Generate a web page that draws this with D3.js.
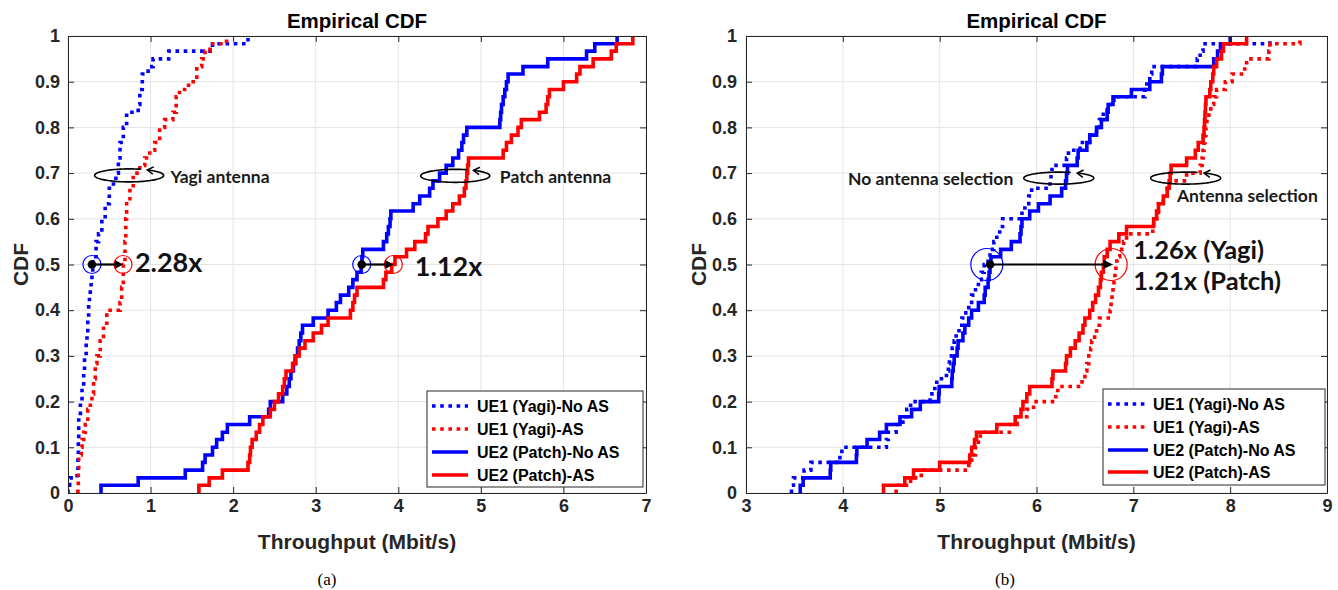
<!DOCTYPE html>
<html><head><meta charset="utf-8">
<script src="https://cdn.jsdelivr.net/npm/d3@7"></script>
<style>
html,body{margin:0;padding:0;background:#fff;}
svg{display:block;}
</style></head><body>
<svg id="chart" width="1338" height="590"></svg>
<script>
// ================= DATA =================
const legendLabels = ["UE1 (Yagi)-No AS", "UE1 (Yagi)-AS", "UE2 (Patch)-No AS", "UE2 (Patch)-AS"];
const yTicks = [0, 0.1, 0.2, 0.3, 0.4, 0.5, 0.6, 0.7, 0.8, 0.9, 1];
const xTicksA = [0, 1, 2, 3, 4, 5, 6, 7];
const xTicksB = [3, 4, 5, 6, 7, 8, 9];
const titleText = "Empirical CDF";
const xLabelText = "Throughput (Mbit/s)";
const yLabelText = "CDF";
const captions = ["(a)", "(b)"];

// 60-sample CDF levels
const levels60 = [0.017,0.033,0.05,0.067,0.083,0.10,0.117,0.133,0.15,0.167,0.183,0.20,0.217,0.233,0.25,0.267,0.283,0.30,0.317,0.333,0.35,0.367,0.383,0.40,0.417,0.433,0.45,0.467,0.483,0.50,0.517,0.533,0.55,0.567,0.583,0.60,0.617,0.633,0.65,0.667,0.683,0.70,0.717,0.733,0.75,0.767,0.783,0.80,0.817,0.833,0.85,0.867,0.883,0.90,0.917,0.933,0.95,0.967,0.983,1.0];

// ---- Panel (a) ----
const aYagiNoAS_x = [0.00,0.02,0.11,0.12,0.125,0.13,0.15,0.17,0.19,0.20,0.22,0.23,0.24,0.25,0.26,0.27,0.28,0.29,0.30,0.34,0.37,0.41,0.45,0.50,0.55,0.58,0.61,0.63,0.67,0.71,0.85,0.87,0.90,0.97,1.03,1.22,1.75,2.18];
const aYagiNoAS_y = [0.017,0.033,0.05,0.083,0.117,0.167,0.20,0.233,0.267,0.30,0.333,0.35,0.383,0.417,0.433,0.45,0.467,0.483,0.517,0.55,0.567,0.60,0.633,0.667,0.683,0.70,0.733,0.767,0.80,0.833,0.85,0.883,0.917,0.933,0.95,0.967,0.983,1.0];
const aYagiAS_x = [0.12,0.125,0.13,0.16,0.17,0.19,0.21,0.24,0.27,0.29,0.31,0.33,0.35,0.39,0.43,0.47,0.63,0.65,0.67,0.69,0.70,0.71,0.75,0.79,0.87,0.93,0.99,1.05,1.11,1.17,1.27,1.31,1.35,1.46,1.56,1.62,1.66,1.72,1.92];
const aYagiAS_y = [0.017,0.05,0.083,0.10,0.117,0.133,0.15,0.183,0.20,0.217,0.25,0.283,0.30,0.333,0.367,0.40,0.417,0.45,0.50,0.55,0.60,0.633,0.667,0.70,0.717,0.733,0.75,0.767,0.80,0.817,0.833,0.867,0.883,0.90,0.933,0.95,0.967,0.983,1.0];
const aPatchNoAS_x = [0.40,0.85,1.42,1.63,1.66,1.75,1.80,1.87,1.93,2.20,2.43,2.45,2.60,2.65,2.68,2.70,2.73,2.75,2.78,2.80,2.82,2.84,2.97,3.15,3.25,3.30,3.40,3.45,3.50,3.55,3.56,3.57,3.82,3.86,3.88,3.90,3.91,4.18,4.26,4.38,4.42,4.50,4.58,4.66,4.73,4.77,4.79,4.83,5.23,5.24,5.25,5.27,5.29,5.31,5.33,5.51,5.81,6.28,6.38,6.65];
const aPatchNoAS_y = levels60;
const aPatchAS_x = [1.585,1.71,1.87,2.18,2.20,2.21,2.23,2.28,2.32,2.36,2.45,2.50,2.55,2.60,2.62,2.64,2.72,2.76,2.80,2.87,2.97,3.07,3.15,3.42,3.45,3.47,3.50,3.82,3.85,3.92,3.96,4.10,4.20,4.33,4.36,4.48,4.58,4.66,4.74,4.80,4.82,4.83,4.84,4.85,5.27,5.31,5.37,5.45,5.49,5.71,5.79,5.81,5.83,6.00,6.16,6.20,6.36,6.58,6.64,6.84];
const aPatchAS_y = levels60;

// ---- Panel (b) ----
const bYagiNoAS_x = [3.47,3.49,3.60,3.67,3.97,3.99,4.45,4.47,4.55,4.62,4.66,4.70,4.90,4.95,4.97,5.07,5.09,5.10,5.13,5.15,5.17,5.20,5.23,5.27,5.30,5.33,5.37,5.40,5.43,5.46,5.50,5.52,5.56,5.59,5.62,5.65,5.85,5.88,5.92,5.95,6.14,6.15,6.16,6.31,6.33,6.45,6.55,6.62,6.65,6.69,6.73,6.80,7.12,7.14,7.17,7.19,7.66,7.69,7.72,8.41];
const bYagiNoAS_y = levels60;
const bYagiAS_x = [4.55,4.70,4.81,5.30,5.33,5.37,5.40,5.42,5.72,5.80,5.90,5.97,6.20,6.22,6.47,6.50,6.52,6.54,6.56,6.57,6.60,6.62,6.65,6.76,6.77,6.78,6.79,6.80,6.81,6.82,6.83,6.86,6.90,6.93,7.20,7.21,7.26,7.31,7.35,7.38,7.55,7.69,7.71,7.72,7.73,7.74,7.75,7.76,7.78,7.80,7.83,7.86,7.95,8.02,8.15,8.17,8.40,8.41,8.72];
const bYagiAS_y = [0.017,0.033,0.05,0.067,0.083,0.10,0.117,0.133,0.15,0.167,0.183,0.20,0.217,0.233,0.25,0.267,0.283,0.30,0.317,0.333,0.35,0.367,0.383,0.40,0.417,0.433,0.45,0.467,0.483,0.50,0.517,0.533,0.55,0.567,0.583,0.60,0.633,0.65,0.667,0.683,0.70,0.717,0.733,0.75,0.767,0.783,0.80,0.817,0.833,0.85,0.867,0.883,0.90,0.917,0.933,0.95,0.967,0.983,1.0];
const bPatchNoAS_x = [3.56,3.59,3.87,3.875,4.14,4.145,4.25,4.38,4.45,4.59,4.71,4.80,4.99,4.995,5.125,5.13,5.14,5.15,5.18,5.19,5.24,5.26,5.30,5.33,5.40,5.46,5.47,5.50,5.51,5.52,5.53,5.63,5.74,5.83,5.84,5.85,5.93,6.02,6.14,6.26,6.30,6.31,6.32,6.42,6.43,6.52,6.55,6.62,6.67,6.73,6.74,6.79,6.98,7.17,7.29,7.30,7.83,7.87,7.90,8.00];
const bPatchNoAS_y = levels60;
const bPatchAS_x = [4.42,4.64,4.73,5.00,5.31,5.33,5.36,5.38,5.59,5.78,5.84,5.86,5.90,5.93,6.16,6.17,6.30,6.31,6.35,6.40,6.44,6.48,6.50,6.55,6.58,6.61,6.64,6.66,6.67,6.69,6.70,6.73,6.76,6.85,6.93,7.21,7.24,7.26,7.31,7.35,7.37,7.38,7.39,7.55,7.64,7.67,7.72,7.73,7.735,7.74,7.745,7.75,7.79,7.80,7.82,7.83,7.86,7.91,7.93,8.17];
const bPatchAS_y = levels60;

// ---- annotations (data coordinates) ----
const aEllipses = [{cx:0.74, cy:0.695}, {cx:4.69, cy:0.694}];
const aEllipseLabels = [{x:1.24, y:0.679, text:"Yagi antenna", anchor:"start"}, {x:5.23, y:0.678, text:"Patch antenna", anchor:"start"}];
const aRatios = [{from:0.29, to:0.666, y:0.5, text:"2.28x", tx:0.81, ty:0.484},
                 {from:3.557, to:3.94, y:0.5, text:"1.12x", tx:4.20, ty:0.475}];
const bEllipses = [{cx:6.23, cy:0.689}, {cx:7.54, cy:0.689}];
const bEllipseLabels = [{x:5.76, y:0.675, text:"No antenna selection", anchor:"end"}, {x:7.45, y:0.637, text:"Antenna selection", anchor:"start"}];
const bRatio = {from:5.487, dot:5.521, to:6.771, y:0.5};
const bRatioTexts = [{x:7.0, y:0.512, text:"1.26x (Yagi)"}, {x:7.0, y:0.445, text:"1.21x (Patch)"}];

// ================= DRAWING =================
const svg = d3.select("#chart");
const TOP = 36, BOT = 493;
const FONT = "'Liberation Sans', Arial, Helvetica, sans-serif";
const AFONT = "Lato, 'Open Sans', sans-serif";
const AXC = "#262626";
const BLUE = "#0000ff", RED = "#ff0000";
const styles = [{color:BLUE, dotted:true}, {color:RED, dotted:true}, {color:BLUE, dotted:false}, {color:RED, dotted:false}];

function zip(xs, ys){ return xs.map((v,i)=>[v, ys[i]]); }

function drawPanel(p, idx){
  const x = d3.scaleLinear().domain(p.xDomain).range([p.left, p.right]);
  const y = d3.scaleLinear().domain([0,1]).range([BOT, TOP]);
  const g = svg.append("g");

  // grid
  g.append("g").selectAll("line").data(p.xTicks).join("line")
    .attr("x1", d=>x(d)).attr("x2", d=>x(d)).attr("y1", TOP).attr("y2", BOT)
    .attr("stroke", "#e4e4e4").attr("stroke-width", 1);
  g.append("g").selectAll("line").data(yTicks).join("line")
    .attr("y1", d=>y(d)).attr("y2", d=>y(d)).attr("x1", p.left).attr("x2", p.right)
    .attr("stroke", "#e4e4e4").attr("stroke-width", 1);

  // clip
  const cid = "clip" + idx;
  svg.append("defs").append("clipPath").attr("id", cid).append("rect")
    .attr("x", p.left).attr("y", TOP - 2).attr("width", p.right - p.left).attr("height", BOT - TOP + 2);

  const line = d3.line().x(d=>x(d[0])).y(d=>y(d[1])).curve(d3.curveStepAfter);
  p.series.forEach((s, i) => {
    const pts = [[s[0][0], 0]].concat(s);
    g.append("path").attr("d", line(pts)).attr("fill", "none")
      .attr("stroke", styles[i].color).attr("stroke-width", 3.6)
      .attr("stroke-dasharray", styles[i].dotted ? "3.6,4.6" : null)
      .attr("clip-path", `url(#${cid})`);
  });

  // axes (MATLAB style box, inward ticks)
  const styleAxis = sel => {
    sel.select(".domain").attr("stroke", AXC).attr("stroke-width", 1);
    sel.selectAll(".tick line").attr("stroke", AXC).attr("stroke-width", 1);
    sel.selectAll(".tick text").attr("fill", AXC).attr("font-family", FONT)
      .attr("font-weight", "bold").attr("font-size", 18);
  };
  g.append("g").attr("transform", `translate(0,${BOT})`)
    .call(d3.axisBottom(x).tickValues(p.xTicks).tickFormat(d3.format("d")).tickSize(-6).tickSizeOuter(0).tickPadding(6))
    .call(styleAxis);
  g.append("g").attr("transform", `translate(0,${TOP})`)
    .call(d3.axisTop(x).tickValues(p.xTicks).tickFormat("").tickSize(-6).tickSizeOuter(0))
    .call(styleAxis);
  g.append("g").attr("transform", `translate(${p.left},0)`)
    .call(d3.axisLeft(y).tickValues(yTicks).tickFormat(d3.format("")).tickSize(-6).tickSizeOuter(0).tickPadding(p.yPad))
    .call(styleAxis);
  g.append("g").attr("transform", `translate(${p.right},0)`)
    .call(d3.axisRight(y).tickValues(yTicks).tickFormat("").tickSize(-6).tickSizeOuter(0))
    .call(styleAxis);

  const cx = (p.left + p.right) / 2;
  g.append("text").attr("x", cx).attr("y", 28).attr("text-anchor", "middle")
    .attr("font-family", FONT).attr("font-weight", "bold").attr("font-size", 20.5).attr("fill", "#000").text(titleText);
  g.append("text").attr("x", cx).attr("y", 549).attr("text-anchor", "middle")
    .attr("font-family", FONT).attr("font-weight", "bold").attr("font-size", 21).attr("fill", AXC).text(xLabelText);
  g.append("text").attr("transform", `translate(${p.left - 40},${(TOP+BOT)/2}) rotate(-90)`).attr("text-anchor", "middle")
    .attr("font-family", FONT).attr("font-weight", "bold").attr("font-size", 21).attr("fill", AXC).text(yLabelText);
  g.append("text").attr("x", p.capX).attr("y", 585).attr("text-anchor", "middle")
    .attr("font-family", "'Liberation Serif', 'Times New Roman', serif").attr("font-size", 17).attr("fill", "#000").text(captions[idx]);

  // legend
  const L = p.legend;
  const lg = g.append("g");
  lg.append("rect").attr("x", L.x).attr("y", L.y).attr("width", L.w).attr("height", L.h)
    .attr("fill", "#fff").attr("stroke", AXC).attr("stroke-width", 1);
  legendLabels.forEach((lab, i) => {
    const ry = L.rows[i];
    lg.append("line").attr("x1", L.x + 5).attr("x2", L.x + 5 + L.lineLen).attr("y1", ry).attr("y2", ry)
      .attr("stroke", styles[i].color).attr("stroke-width", 3.6)
      .attr("stroke-dasharray", styles[i].dotted ? "3.6,4.6" : null);
    lg.append("text").attr("x", L.x + L.textOff).attr("y", ry).attr("dy", "0.36em")
      .attr("font-family", FONT).attr("font-weight", "bold").attr("font-size", 16).attr("fill", "#000").text(lab);
  });

  return {x, y, g};
}

function ellipseArrow(g, cx, cy, rx, ry){
  const t0 = -70 * Math.PI/180, t1 = t0 - 348 * Math.PI/180;
  const ts = d3.range(0, 121).map(i => t0 + (t1 - t0) * i / 120);
  const pts = ts.map(t => [cx + rx*Math.cos(t), cy + ry*Math.sin(t)]);
  g.append("path").attr("d", d3.line()(pts)).attr("fill", "none").attr("stroke", "#000").attr("stroke-width", 1.6);
  const tip = pts[pts.length-1];
  let dx = rx*Math.sin(t1), dy = -ry*Math.cos(t1);
  const n = Math.hypot(dx, dy); dx /= n; dy /= n;
  const a = 32 * Math.PI/180, len = 7;
  const back = [-dx, -dy];
  const rot = (v, ang) => [v[0]*Math.cos(ang) - v[1]*Math.sin(ang), v[0]*Math.sin(ang) + v[1]*Math.cos(ang)];
  const b1 = rot(back, a), b2 = rot(back, -a);
  g.append("path").attr("d", `M${tip[0]+b1[0]*len},${tip[1]+b1[1]*len}L${tip[0]},${tip[1]}L${tip[0]+b2[0]*len},${tip[1]+b2[1]*len}`)
    .attr("fill", "none").attr("stroke", "#000").attr("stroke-width", 1.6);
}

function ratioArrow(g, x0, x1, yy, rCirc, xBlue, xRed, headLen){
  g.append("circle").attr("cx", xBlue).attr("cy", yy).attr("r", rCirc).attr("fill", "none").attr("stroke", BLUE).attr("stroke-width", 1.2);
  g.append("circle").attr("cx", xRed).attr("cy", yy).attr("r", rCirc).attr("fill", "none").attr("stroke", RED).attr("stroke-width", 1.2);
  g.append("line").attr("x1", x0).attr("x2", x1 - headLen + 1).attr("y1", yy).attr("y2", yy).attr("stroke", "#000").attr("stroke-width", 2.2);
  g.append("path").attr("d", `M${x1},${yy}L${x1-headLen},${yy-4.5}L${x1-headLen},${yy+4.5}Z`).attr("fill", "#000");
  g.append("circle").attr("cx", x0).attr("cy", yy).attr("r", 4.3).attr("fill", "#000");
}

// ----- Panel (a) -----
const A = drawPanel({
  xDomain:[0,7], left:68, right:646, xTicks:xTicksA, yPad:8, capX:327,
  series:[zip(aYagiNoAS_x, aYagiNoAS_y), zip(aYagiAS_x, aYagiAS_y), zip(aPatchNoAS_x, aPatchNoAS_y), zip(aPatchAS_x, aPatchAS_y)],
  legend:{x:427, y:391, w:216, h:96, rows:[406, 429, 452, 475], lineLen:36, textOff:50}
}, 0);
{
  const ag = A.g.append("g");
  aEllipses.forEach(e => ellipseArrow(ag, A.x(e.cx), A.y(e.cy), 34.5, 6.5));
  aEllipseLabels.forEach(l => ag.append("text").attr("x", A.x(l.x)).attr("y", A.y(l.y)).attr("text-anchor", l.anchor)
    .attr("font-family", AFONT).attr("font-weight", "bold").attr("font-size", 17.5).attr("fill", "#1a1a1a").text(l.text));
  aRatios.forEach(r => {
    ratioArrow(ag, A.x(r.from), A.x(r.to), A.y(r.y), 9, A.x(r.from), A.x(r.to), 8);
    ag.append("text").attr("x", A.x(r.tx)).attr("y", A.y(r.ty)).attr("font-family", AFONT).attr("font-weight", "bold")
      .attr("font-size", 27).attr("fill", "#111").text(r.text);
  });
}

// ----- Panel (b) -----
const B = drawPanel({
  xDomain:[3,9], left:746, right:1327, xTicks:xTicksB, yPad:9, capX:1005,
  series:[zip(bYagiNoAS_x, bYagiNoAS_y), zip(bYagiAS_x, bYagiAS_y), zip(bPatchNoAS_x, bPatchNoAS_y), zip(bPatchAS_x, bPatchAS_y)],
  legend:{x:1103, y:389, w:222, h:96, rows:[404, 427, 450, 472], lineLen:40, textOff:50}
}, 1);
{
  const bg = B.g.append("g");
  bEllipses.forEach(e => ellipseArrow(bg, B.x(e.cx), B.y(e.cy), 35, 6));
  bEllipseLabels.forEach(l => bg.append("text").attr("x", B.x(l.x)).attr("y", B.y(l.y)).attr("text-anchor", l.anchor)
    .attr("font-family", AFONT).attr("font-weight", "bold").attr("font-size", 17.5).attr("fill", "#1a1a1a").text(l.text));
  ratioArrow(bg, B.x(bRatio.dot), B.x(bRatio.to) + 2, B.y(bRatio.y), 16, B.x(bRatio.from), B.x(bRatio.to), 10);
  bRatioTexts.forEach(t => bg.append("text").attr("x", B.x(t.x)).attr("y", B.y(t.y)).attr("font-family", AFONT)
    .attr("font-weight", "bold").attr("font-size", 25.5).attr("fill", "#111").text(t.text));
}
</script>
</body></html>
